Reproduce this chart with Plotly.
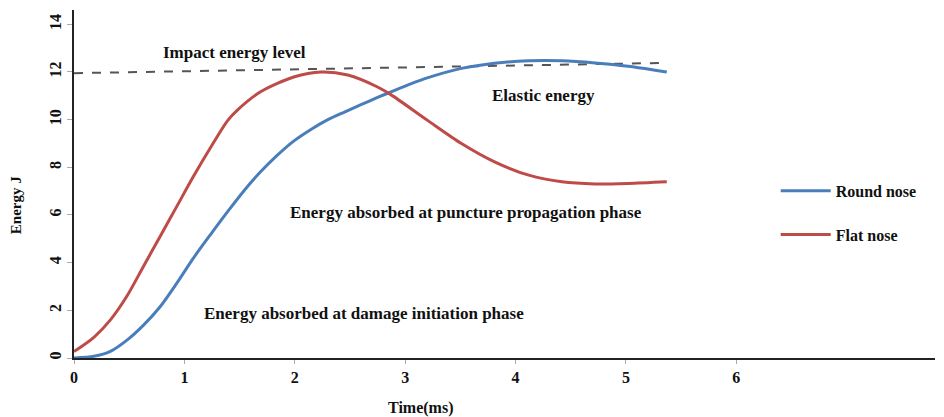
import plotly.graph_objects as go

# Data
t_round = [0, 0.18, 0.33, 0.48, 0.63, 0.78, 0.93, 1.08, 1.24, 1.39, 1.54, 1.69, 1.84, 1.99,
           2.15, 2.3, 2.45, 2.6, 2.75, 2.9, 3.05, 3.2, 3.51, 3.81, 4.12, 4.42, 4.72, 5.02, 5.37]
e_round = [0, 0.07, 0.28, 0.75, 1.38, 2.15, 3.13, 4.18, 5.2, 6.13, 7.02, 7.81, 8.5, 9.1,
           9.6, 10.0, 10.32, 10.63, 10.93, 11.22, 11.5, 11.75, 12.15, 12.37, 12.47, 12.47, 12.38, 12.24, 12.0]

t_flat = [0, 0.18, 0.33, 0.48, 0.63, 0.78, 0.93, 1.08, 1.24, 1.39, 1.48, 1.69, 1.99, 2.24,
          2.48, 2.75, 2.87, 3.2, 3.51, 3.81, 4.12, 4.42, 4.72, 5.02, 5.37]
e_flat = [0.27, 0.87, 1.6, 2.6, 3.85, 5.1, 6.35, 7.6, 8.85, 9.95, 10.4, 11.17, 11.79, 12.0,
          11.87, 11.37, 11.05, 9.98, 9.0, 8.23, 7.67, 7.39, 7.3, 7.32, 7.39]

t_impact = [0, 5.35]
e_impact = [11.95, 12.38]

x_ticks = [0, 1, 2, 3, 4, 5, 6]
y_ticks = [0, 2, 4, 6, 8, 10, 12, 14]

labels = [
    ("Impact energy level", 1.45, 12.83),
    ("Elastic energy", 4.25, 11.0),
    ("Energy absorbed at puncture propagation phase", 3.55, 6.12),
    ("Energy absorbed at damage initiation phase", 2.63, 1.85),
]

FONT = "Liberation Serif"
BLUE = "#4a7ebb"
RED = "#be4b48"

fig = go.Figure()
fig.add_trace(go.Scatter(x=t_impact, y=e_impact, mode="lines", showlegend=False,
                         line=dict(color="#555555", width=2, dash="dash"), hoverinfo="skip"))
fig.add_trace(go.Scatter(x=t_round, y=e_round, mode="lines", name="Round nose",
                         line=dict(color=BLUE, width=3, shape="spline", smoothing=0.8), legendgroup="a"))
fig.add_trace(go.Scatter(x=t_flat, y=e_flat, mode="lines", name="Flat nose",
                         line=dict(color=RED, width=3, shape="spline", smoothing=0.8), legendgroup="b"))

for txt, x, y in labels:
    fig.add_annotation(x=x, y=y, text=txt, showarrow=False,
                       font=dict(family=FONT, size=17, color="#111111", weight="bold"))

fig.add_annotation(x=0.402, y=-0.145, xref="paper", yref="paper", text="Time(ms)",
                   showarrow=False, yanchor="middle",
                   font=dict(family=FONT, size=16, color="#111111", weight="bold"))
fig.add_annotation(x=-0.067, y=0.44, xref="paper", yref="paper", text="Energy J",
                   showarrow=False, textangle=-90, xanchor="center",
                   font=dict(family=FONT, size=15, color="#111111", weight="bold"))

fig.update_layout(
    width=944, height=417,
    margin=dict(l=74, r=9, t=10, b=59),
    paper_bgcolor="white", plot_bgcolor="white",
    font=dict(family=FONT, size=15, color="#111111", weight="bold"),
    legend=dict(x=0.815, y=0.417, xanchor="left", yanchor="middle",
                traceorder="grouped", tracegroupgap=20, itemwidth=50,
                font=dict(family=FONT, size=16, color="#111111", weight="bold"),
                bgcolor="rgba(0,0,0,0)"),
    xaxis=dict(range=[0, 7.8], tickvals=x_ticks, showgrid=False, zeroline=False,
               showline=True, linecolor="#222222", linewidth=2,
               ticks="outside", ticklen=4, tickcolor="#aaaaaa",
               tickfont=dict(family=FONT, size=16, color="#111111", weight="bold")),
    yaxis=dict(range=[0, 14.6], tickvals=y_ticks, showgrid=False, zeroline=False,
               showline=True, linecolor="#222222", linewidth=2,
               ticks="outside", ticklen=5, tickcolor="#aaaaaa", tickangle=-90,
               tickfont=dict(family=FONT, size=16, color="#111111", weight="bold")),
)

fig.write_html("out.html", config={"displayModeBar": False},
               post_script="document.body.style.margin='0';")
